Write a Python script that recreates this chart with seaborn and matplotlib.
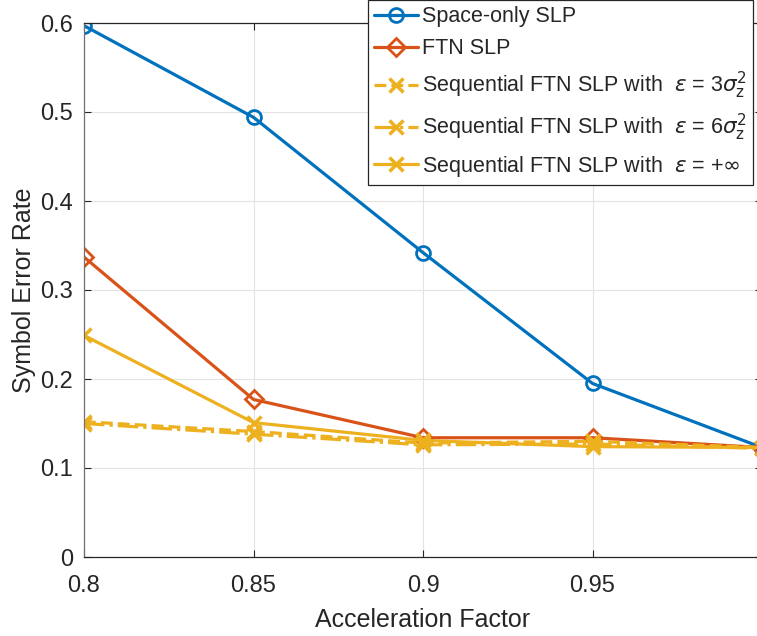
import numpy as np
import seaborn as sns
import matplotlib
matplotlib.use('Agg')
import matplotlib.pyplot as plt

accel = [0.8, 0.85, 0.9, 0.95, 1.0]
space_only = [0.597, 0.494, 0.342, 0.195, 0.123]
ftn_slp = [0.337, 0.177, 0.134, 0.134, 0.123]
seq_eps3 = [0.152, 0.141, 0.128, 0.130, 0.123]
seq_eps6 = [0.150, 0.138, 0.126, 0.127, 0.122]
seq_inf = [0.249, 0.151, 0.131, 0.124, 0.123]

labels = ['Space-only SLP', 'FTN SLP',
          r'Sequential FTN SLP with  $\epsilon$ = 3$\sigma_\mathrm{z}^2$',
          r'Sequential FTN SLP with  $\epsilon$ = 6$\sigma_\mathrm{z}^2$',
          r'Sequential FTN SLP with  $\epsilon$ = +$\infty$']

blue = '#0072BD'
orange = '#D95319'
yellow = '#EDB120'

sns.set_style('whitegrid')
plt.rcParams['font.family'] = ['Liberation Sans', 'DejaVu Sans']
plt.rcParams['mathtext.fontset'] = 'dejavusans'

fig = plt.figure(figsize=(7.57, 6.36), dpi=100)
ax = fig.add_axes([84 / 757, 79 / 636, 678 / 757, 534 / 636])

lw = 2.3
sns.lineplot(x=accel, y=space_only, ax=ax, color=blue, lw=lw, marker='o', ms=10,
             markerfacecolor='none', markeredgecolor=blue, mew=2, label=labels[0])
sns.lineplot(x=accel, y=ftn_slp, ax=ax, color=orange, lw=lw, marker='D', ms=9,
             markerfacecolor='none', markeredgecolor=orange, mew=2, label=labels[1])
sns.lineplot(x=accel, y=seq_eps3, ax=ax, color=yellow, lw=lw, linestyle='--', marker='x', ms=10,
             markeredgecolor=yellow, mew=2.5, label=labels[2])
sns.lineplot(x=accel, y=seq_eps6, ax=ax, color=yellow, lw=lw, linestyle='-.', marker='x', ms=10,
             markeredgecolor=yellow, mew=2.5, label=labels[3])
sns.lineplot(x=accel, y=seq_inf, ax=ax, color=yellow, lw=lw, linestyle='-', marker='x', ms=10,
             markeredgecolor=yellow, mew=2.5, label=labels[4])

ax.set_xlim(0.8, 1.0)
ax.set_ylim(0, 0.6)
ax.set_xticks([0.8, 0.85, 0.9, 0.95, 1.0])
ax.set_xticklabels(['0.8', '0.85', '0.9', '0.95', '1'])
ax.set_yticks([0, 0.1, 0.2, 0.3, 0.4, 0.5, 0.6])
ax.set_yticklabels(['0', '0.1', '0.2', '0.3', '0.4', '0.5', '0.6'])
ax.tick_params(axis='both', direction='in', length=5, color='#262626', labelsize=17,
               labelcolor='#262626', top=True, right=True, left=True, bottom=True)
ax.tick_params(axis='x', pad=13)
ax.tick_params(axis='y', pad=8)
ax.grid(True, color='#e3e3e3', lw=0.8)
for s in ax.spines.values():
    s.set_color('#262626')
    s.set_linewidth(0.9)
ax.spines['left'].set_color('#707070')

ax.set_xlabel('Acceleration Factor', fontsize=18, color='#262626', labelpad=8)
ax.set_ylabel('Symbol Error Rate', fontsize=18, color='#262626', labelpad=3)

leg = ax.legend(loc='upper left', bbox_to_anchor=(368 / 757, 1.0), bbox_transform=fig.transFigure,
                fontsize=15.5, frameon=True, fancybox=False, framealpha=1, edgecolor='#262626',
                handlelength=2.0, handletextpad=0.2, labelspacing=0.5, borderpad=0.3,
                borderaxespad=0)
leg.get_frame().set_linewidth(0.9)

fig.savefig('out.png', dpi=100)
